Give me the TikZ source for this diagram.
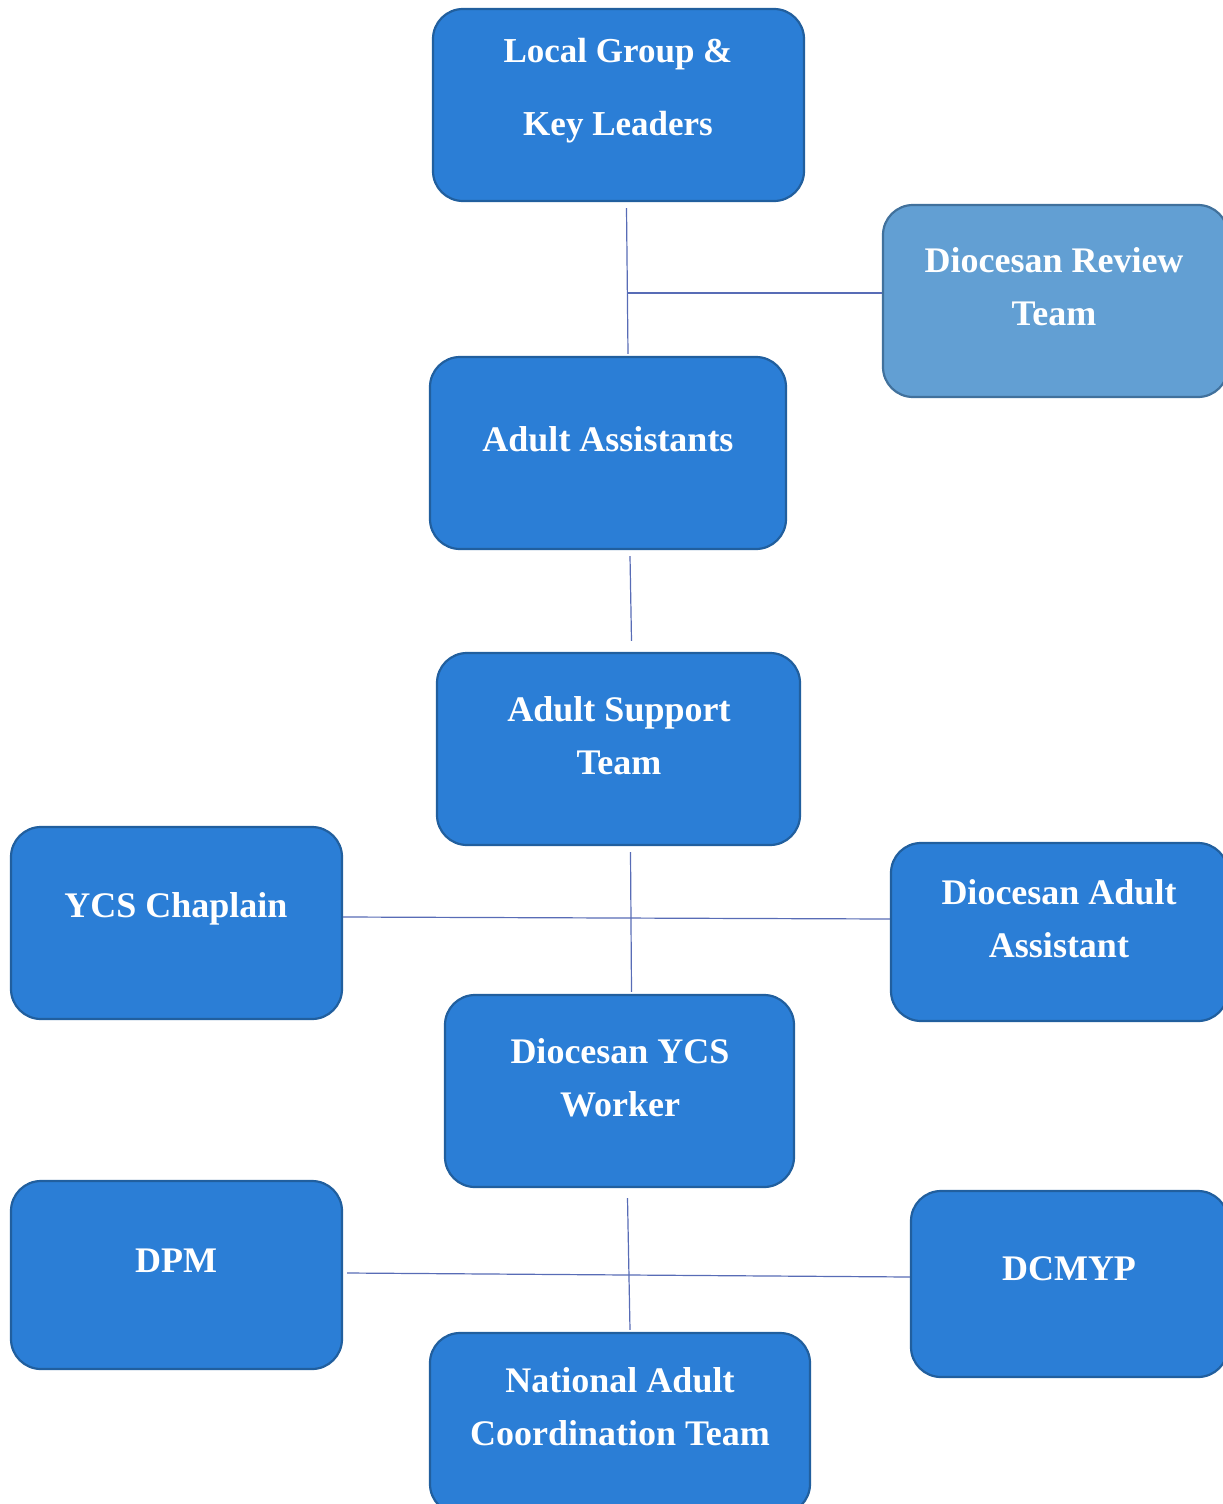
\documentclass[tikz,border=0pt]{standalone}
\usepackage{fontspec}
\setmainfont{Liberation Serif}
\usetikzlibrary{positioning,calc,fit}
\definecolor{boxblue}{RGB}{43,126,214}
\definecolor{boxedge}{RGB}{33,95,158}
\definecolor{revblue}{RGB}{98,159,211}
\definecolor{revedge}{RGB}{65,113,156}
\definecolor{linkblue}{RGB}{88,108,182}

\begin{document}
\begin{tikzpicture}[x=0.5pt,y=-0.5pt,
        box/.style={draw=boxedge,fill=boxblue,line width=1.1pt,rounded corners=15pt,inner sep=0pt},
        revbox/.style={box,draw=revedge,fill=revblue},
        txt/.style={text=white,font=\fontsize{18}{26.5}\selectfont\bfseries,align=center,inner sep=0pt},
        link/.style={draw=linkblue,line width=0.6pt}]
        \useasboundingbox (0,0) rectangle (1222,1504);

        % boxes
        \node[box,fit={(433,9) (804,201)}] (lgk) {};
        \node[revbox,fit={(883,205) (1228,397)}] (drt) {};
        \node[box,fit={(430,357) (786,549)}] (aa) {};
        \node[box,fit={(437,653) (800,845)}] (ast) {};
        \node[box,fit={(11,827) (342,1019)}] (chap) {};
        \node[box,fit={(891,843) (1228,1021)}] (daa) {};
        \node[box,fit={(445,995) (794,1187)}] (dyw) {};
        \node[box,fit={(11,1181) (342,1369)}] (dpm) {};
        \node[box,fit={(911,1191) (1228,1377)}] (dcm) {};
        \node[box,fit={(430,1333) (810,1514)}] (nact) {};

        % texts
        \node[txt,font=\fontsize{17.5}{36.5}\selectfont\bfseries] (lgkt) at (618,91) {Local Group \&\\Key Leaders};
        \node[txt] (drtt) at (1054,287) {Diocesan Review\\Team};
        \node[txt] (aat) at (608,439) {Adult Assistants};
        \node[txt] (astt) at (619,735.5) {Adult Support\\Team};
        \node[txt] (chapt) at (176,909) {YCS Chaplain};
        \node[txt] (daat) at (1059,918.5) {Diocesan Adult\\Assistant};
        \node[txt] (dywt) at (620,1077.5) {Diocesan YCS\\Worker};
        \node[txt] (dpmt) at (176,1261) {DPM};
        \node[txt] (dcmt) at (1069,1269) {DCMYP};
        \node[txt] (nactt) at (620,1406.5) {National Adult\\Coordination Team};

        % connectors
        \draw[link] ([xshift=4pt,yshift=-3pt]lgk.south) -- coordinate[pos=0.58] (junc) ([xshift=10pt,yshift=1pt]aa.north);
        \coordinate (drtl) at ([yshift=4pt]drt.west);
        \draw[link] (drtl) -- (drtl -| junc);
        \draw[link] ([xshift=11pt,yshift=-3pt]aa.south) -- ([xshift=6.5pt,yshift=5.5pt]ast.north);
        \draw[link] ([xshift=6pt,yshift=-3pt]ast.south) -- ([xshift=6pt,yshift=1pt]dyw.north);
        \draw[link] ([yshift=3pt]chap.east) -- ([yshift=6.5pt]daa.west);
        \draw[link] ([xshift=4pt,yshift=-5pt]dyw.south) -- ([xshift=5pt,yshift=1pt]nact.north);
        \draw[link] ([xshift=2pt,yshift=1pt]dpm.east) -- ([yshift=3.5pt]dcm.west);
\end{tikzpicture}
\end{document}
